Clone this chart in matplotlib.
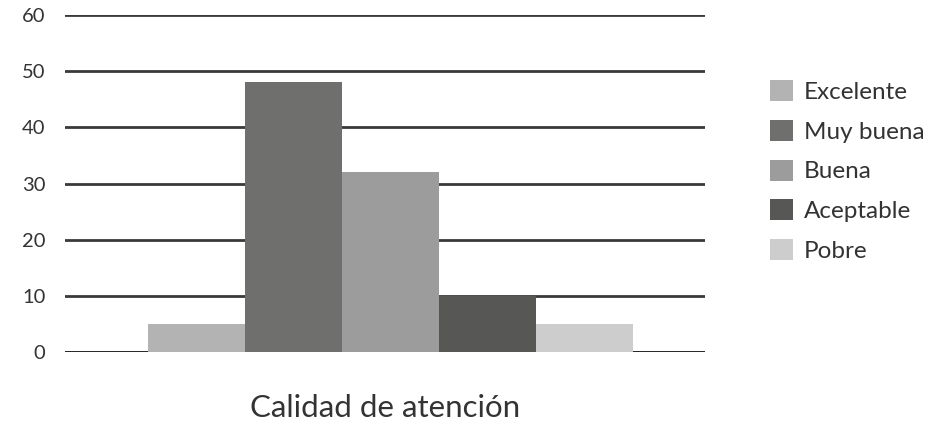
import matplotlib
matplotlib.use('Agg')
import matplotlib.pyplot as plt

categorias = ['Excelente', 'Muy buena', 'Buena', 'Aceptable', 'Pobre']
valores = [5, 48, 32, 10, 5]
colores = ['#b3b3b3', '#6f6f6e', '#9c9c9c', '#575756', '#cdcdcd']
yticks = [0, 10, 20, 30, 40, 50, 60]

plt.rcParams['font.family'] = ['Lato', 'DejaVu Sans']

fig = plt.figure(figsize=(9.37, 4.22), dpi=100)
ax = fig.add_axes([65 / 937, 70 / 422, 640 / 937, 337 / 422])

for i, (cat, v, c) in enumerate(zip(categorias, valores, colores)):
    ax.bar(i, v, width=1.0, color=c, label=cat, zorder=3)

ax.set_ylim(0, 60)
ax.set_xlim(-1.36, 5.24)
ax.set_yticks(yticks)
ax.set_xticks([])
for y in yticks:
    ax.axhline(y, color='#3a3a3a' if y else '#111111', lw=2.0, zorder=1)
ax.tick_params(axis='y', length=0, pad=14, labelsize=14.5, labelcolor='#333333')
for s in ax.spines.values():
    s.set_visible(False)

ax.set_xlabel('Calidad de atención', fontsize=22.5, color='#333333', labelpad=30)

fig.legend(loc='center left', bbox_to_anchor=(758 / 937, 1 - 171 / 422), frameon=False,
           fontsize=17.5, labelspacing=0.7, handlelength=0.95, handleheight=0.95,
           handletextpad=0.45, borderpad=0, labelcolor='#333333')

fig.savefig('out.png', dpi=100)
